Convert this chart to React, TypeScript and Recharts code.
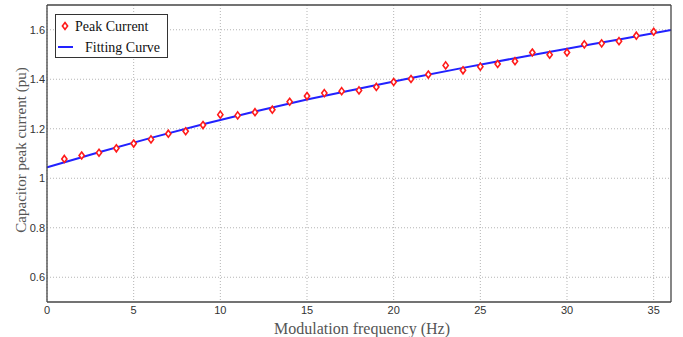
import { ComposedChart, Line, XAxis, YAxis, CartesianGrid, Legend } from 'recharts';

const freq = [
  1, 2, 3, 4, 5, 6, 7, 8, 9, 10, 11, 12, 13, 14, 15, 16, 17, 18,
  19, 20, 21, 22, 23, 24, 25, 26, 27, 28, 29, 30, 31, 32, 33, 34, 35,
];
const peakCurrent = [
  1.078, 1.092, 1.103, 1.121, 1.14, 1.157, 1.18, 1.19, 1.215, 1.257, 1.254, 1.267,
  1.277, 1.309, 1.332, 1.344, 1.352, 1.355, 1.369, 1.389, 1.401, 1.419, 1.456, 1.436,
  1.451, 1.462, 1.473, 1.508, 1.499, 1.508, 1.541, 1.545, 1.554, 1.576, 1.592,
];
const fitFreq = [0, 3, 6, 9, 12, 15, 18, 21, 24, 27, 30, 33, 36];
const fitCurrent = [
  1.044, 1.105, 1.163, 1.218, 1.27, 1.318, 1.362, 1.405, 1.446, 1.485, 1.523, 1.561, 1.599,
];
const xTicks = [0, 5, 10, 15, 20, 25, 30, 35];
const yTicks = [0.6, 0.8, 1, 1.2, 1.4, 1.6];

const data = Array.from(new Set([...freq, ...fitFreq]))
  .sort((a, b) => a - b)
  .map((x) => {
    const pi = freq.indexOf(x);
    const fi = fitFreq.indexOf(x);
    return {
      x,
      peak: pi >= 0 ? peakCurrent[pi] : null,
      fit: fi >= 0 ? fitCurrent[fi] : null,
    };
  });

const axisColor = '#444';
const tickFont = { fontSize: 11, fontFamily: 'Liberation Sans, Arial, sans-serif', fill: '#333' };
const labelFont = { fontSize: 15, fontFamily: 'Liberation Serif, Times New Roman, serif', fill: '#555' };

function Diamond(props: any) {
  const { cx, cy } = props;
  if (cx == null || cy == null) return null;
  return (
    <path
      d={`M${cx},${cy - 3.5} L${cx + 2.6},${cy} L${cx},${cy + 3.5} L${cx - 2.6},${cy} Z`}
      fill="#fff"
      stroke="#ff1a1a"
      strokeWidth={1.6}
    />
  );
}

function LegendBox(props: any) {
  const items = props.payload || [];
  const peak = items.find((p: any) => p.dataKey === 'peak');
  const fit = items.find((p: any) => p.dataKey === 'fit');
  return (
    <div style={{ width: 111, height: 42, border: '1px solid #333', background: '#fff' }}>
      <svg width={111} height={42}>
        <Diamond cx={9} cy={11} />
        <text x={19} y={16} fontSize={14} fontFamily="Liberation Serif, Times New Roman, serif" fill="#111">
          {peak ? peak.value : 'Peak Current'}
        </text>
        <line x1={2} x2={17} y1={32} y2={32} stroke="#2222ff" strokeWidth={2} />
        <text x={29} y={37} fontSize={14} fontFamily="Liberation Serif, Times New Roman, serif" fill="#111">
          {fit ? fit.value : 'Fitting Curve'}
        </text>
      </svg>
    </div>
  );
}

export default function App() {
  return (
    <div style={{ position: 'absolute', left: 0, top: 0, background: '#fff' }}>
      <ComposedChart
        width={683}
        height={337}
        data={data}
        margin={{ top: 5, right: 12, left: 0, bottom: 0 }}
      >
        <CartesianGrid
          stroke="#b5b5b5"
          strokeDasharray="1 2"
          horizontalValues={yTicks}
          verticalValues={xTicks}
        />
        <XAxis
          dataKey="x"
          type="number"
          domain={[0, 36]}
          ticks={xTicks}
          interval={0}
          height={35}
          tickSize={0}
          tickMargin={4}
          tickLine={false}
          axisLine={{ stroke: axisColor, strokeWidth: 1.3 }}
          tick={tickFont}
          label={{
            content: (p: any) => (
              <text
                x={p.viewBox.x + p.viewBox.width / 2 + 3}
                y={p.viewBox.y + 32}
                textAnchor="middle"
                {...labelFont}
                fontSize={16}
              >
                Modulation frequency (Hz)
              </text>
            ),
          }}
        />
        <XAxis
          xAxisId="xb"
          dataKey="x"
          type="number"
          domain={[0, 36]}
          ticks={xTicks}
          interval={0}
          mirror
          tick={false}
          tickSize={5}
          axisLine={false}
          tickLine={{ stroke: axisColor }}
        />
        <XAxis
          xAxisId="xt"
          dataKey="x"
          type="number"
          orientation="top"
          domain={[0, 36]}
          ticks={xTicks}
          interval={0}
          mirror
          tick={false}
          tickSize={5}
          axisLine={{ stroke: axisColor, strokeWidth: 1.3 }}
          tickLine={{ stroke: axisColor }}
        />
        <YAxis
          type="number"
          domain={[0.5, 1.7]}
          ticks={yTicks}
          interval={0}
          width={47}
          tickSize={0}
          tickMargin={2}
          tickLine={false}
          axisLine={{ stroke: axisColor, strokeWidth: 1.3 }}
          tick={tickFont}
          tickFormatter={(v: number) => String(v)}
          label={{
            content: () => (
              <text
                x={26}
                y={150}
                transform="rotate(-90, 26, 150)"
                textAnchor="middle"
                {...labelFont}
              >
                Capacitor peak current (pu)
              </text>
            ),
          }}
        />
        <YAxis
          yAxisId="yl"
          type="number"
          domain={[0.5, 1.7]}
          ticks={yTicks}
          interval={0}
          mirror
          tick={false}
          tickSize={5}
          axisLine={false}
          tickLine={{ stroke: axisColor }}
        />
        <YAxis
          yAxisId="yr"
          type="number"
          orientation="right"
          domain={[0.5, 1.7]}
          ticks={yTicks}
          interval={0}
          mirror
          tick={false}
          tickSize={5}
          axisLine={{ stroke: axisColor, strokeWidth: 1.3 }}
          tickLine={{ stroke: axisColor }}
        />
        <Legend
          layout="horizontal"
          verticalAlign="middle"
          align="center"
          wrapperStyle={{ position: 'absolute', left: 55, top: 14, width: 113, height: 44 }}
          content={LegendBox}
        />
        <Line
          name="Fitting Curve"
          dataKey="fit"
          type="monotone"
          stroke="#2222ff"
          strokeWidth={2}
          dot={false}
          connectNulls
          isAnimationActive={false}
        />
        <Line
          name="Peak Current"
          dataKey="peak"
          stroke="none"
          dot={<Diamond />}
          activeDot={false}
          isAnimationActive={false}
        />
      </ComposedChart>
    </div>
  );
}
